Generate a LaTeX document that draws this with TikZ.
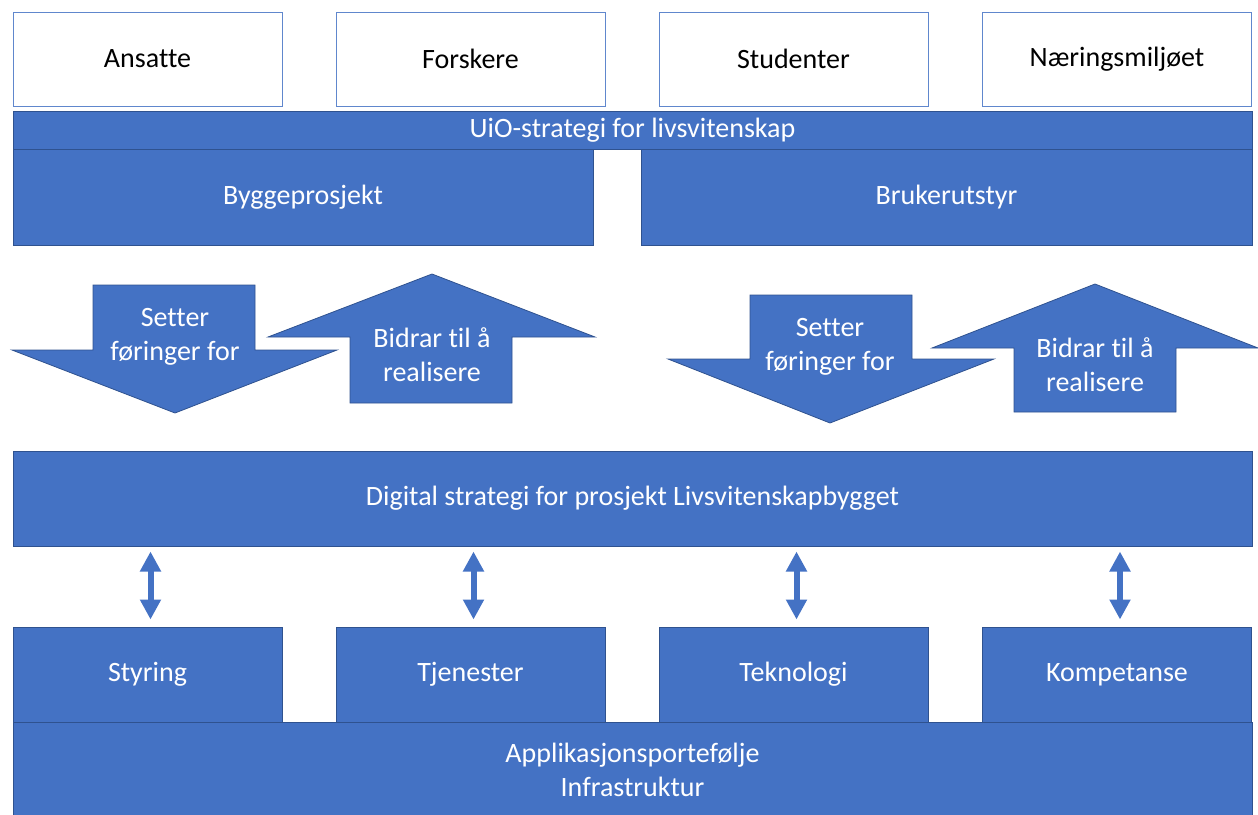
\documentclass[tikz,border=0pt]{standalone}
\usepackage{fontspec}
\setmainfont[Ligatures=CommonOff]{Carlito}
\usetikzlibrary{arrows.meta}
\definecolor{ublue}{HTML}{4472C4}
\definecolor{uedge}{HTML}{2F528F}

\begin{document}
\begin{tikzpicture}[x=1pt, y=-1pt,
      block/.style={rectangle, draw=uedge, fill=ublue, text=white, line width=1pt, inner sep=0pt, align=center},
      userbox/.style={rectangle, draw=ublue!85, fill=white, line width=1pt, minimum width=269pt, minimum height=94pt, inner sep=0pt},
      layer/.style={block, minimum width=269pt, minimum height=95pt},
      bigarrow/.style={draw=uedge, fill=ublue, line width=0.8pt, line join=miter},
      txt/.style={text=white, align=center, inner sep=0pt},
      link/.style={{Triangle[width=20pt,length=20pt]}-{Triangle[width=20pt,length=20pt]}, ublue, line width=6pt, shorten <=7pt, shorten >=5pt},
      ]
      \fontsize{28}{34}\selectfont
      \useasboundingbox (0,0) rectangle (1258,814);

      % brukergrupper
      \node[userbox] (ansatte) at (147.5,59) {Ansatte};
      \node[userbox] (forskere) at (470.5,59) {Forskere};
      \node[userbox] (studenter) at (793.5,59) {Studenter};
      \node[userbox] (naering) at (1117,59) {Næringsmiljøet};

      \node[block, minimum width=1239pt, minimum height=38pt] (uio) at (632.5,130) {UiO-strategi for livsvitenskap};
      \node[block, minimum width=580pt, minimum height=96pt] (bygg) at (303,197) {Byggeprosjekt};
      \node[block, minimum width=611pt, minimum height=96pt] (bruker) at (946.5,197) {Brukerutstyr};

      % store piler
      \filldraw[bigarrow] (93,285) -- (255,285) -- (255,350) -- (337,350) -- (175,413) -- (12,350) -- (93,350) -- cycle;
      \node[txt] (setter1) at (175,337) {Setter\\føringer for};
      \filldraw[bigarrow] (432,274) -- (595,337) -- (512,337) -- (512,403) -- (350,403) -- (350,337) -- (268,337) -- cycle;
      \node[txt] (bidrar1) at (432,355) {Bidrar til å\\realisere};

      \filldraw[bigarrow] (750,295) -- (912,295) -- (912,359) -- (994,359) -- (830,423) -- (668,359) -- (750,359) -- cycle;
      \node[txt] (setter2) at (830,347) {Setter\\føringer for};
      \filldraw[bigarrow] (1095,284) -- (1258,348) -- (1176,348) -- (1176,412) -- (1014,412) -- (1014,348) -- (932,348) -- cycle;
      \node[txt] (bidrar2) at (1095,365) {Bidrar til å\\realisere};

      \node[block, minimum width=1239pt, minimum height=95pt] (digital) at (632.5,498.5) {Digital strategi for prosjekt Livsvitenskapbygget};

      % områder
      \node[layer] (styring) at (147.5,674.5) {Styring};
      \node[layer] (tjenester) at (470.5,674.5) {Tjenester};
      \node[layer] (teknologi) at (793.5,674.5) {Teknologi};
      \node[layer] (kompetanse) at (1117,674.5) {Kompetanse};
      \node[block, minimum width=1239pt, minimum height=96pt] (app) at (632.5,770) {Applikasjonsportefølje\\Infrastruktur};

      \foreach \n in {styring, tjenester, teknologi, kompetanse}
        \draw[link] ([xshift=3pt]\n.north) -- ([xshift=3pt]\n.north |- digital.south);

    \end{tikzpicture}
\end{document}
